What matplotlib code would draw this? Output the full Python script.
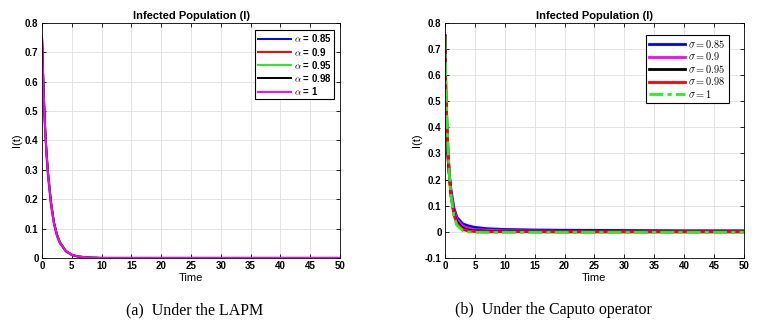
import matplotlib
matplotlib.use("Agg")
import matplotlib.pyplot as plt

plt.rcParams['font.family'] = ['Liberation Sans', 'DejaVu Sans']
plt.rcParams['mathtext.fontset'] = 'cm'

# (a) LAPM - time points and I(t) for each alpha
t_a = [0, 0.25, 0.5, 0.75, 1, 1.5, 2, 2.5, 3, 4, 5, 6, 8, 10, 15, 20, 30, 40, 50]
I_a085 = [0.75, 0.57, 0.44, 0.35, 0.28, 0.18, 0.115, 0.075, 0.05, 0.022, 0.010, 0.005, 0.001, 0.0, 0, 0, 0, 0, 0]
I_a090 = [0.75, 0.575, 0.445, 0.355, 0.285, 0.185, 0.118, 0.077, 0.051, 0.023, 0.010, 0.005, 0.001, 0.0, 0, 0, 0, 0, 0]
I_a095 = [0.75, 0.58, 0.45, 0.36, 0.29, 0.19, 0.12, 0.079, 0.052, 0.023, 0.011, 0.005, 0.001, 0.0, 0, 0, 0, 0, 0]
I_a098 = [0.75, 0.585, 0.455, 0.365, 0.295, 0.193, 0.123, 0.081, 0.054, 0.024, 0.011, 0.005, 0.001, 0.0, 0, 0, 0, 0, 0]
I_a100 = [0.75, 0.58, 0.45, 0.36, 0.29, 0.19, 0.12, 0.08, 0.053, 0.024, 0.011, 0.005, 0.001, 0.0, 0, 0, 0, 0, 0]
labels_a = [r'$\alpha$ = 0.85', r'$\alpha$ = 0.9', r'$\alpha$ = 0.95', r'$\alpha$ = 0.98', r'$\alpha$ = 1']

# (b) Caputo operator - time points and I(t) for each sigma
t_b = [0, 0.1, 0.25, 0.5, 0.75, 1, 1.5, 2, 3, 4, 5, 7, 10, 15, 20, 30, 40, 50]
I_s085 = [0.75, 0.48, 0.38, 0.28, 0.21, 0.16, 0.09, 0.055, 0.03, 0.022, 0.017, 0.012, 0.009, 0.007, 0.006, 0.005, 0.004, 0.004]
I_s090 = [0.75, 0.53, 0.41, 0.29, 0.21, 0.15, 0.08, 0.047, 0.022, 0.013, 0.009, 0.006, 0.004, 0.003, 0.002, 0.001, 0.001, 0.001]
I_s095 = [0.75, 0.57, 0.44, 0.30, 0.21, 0.14, 0.07, 0.037, 0.013, 0.006, 0.004, 0.002, 0.001, 0.0005, 0.0, 0.0, 0.0, 0.0]
I_s098 = [0.75, 0.60, 0.46, 0.31, 0.21, 0.14, 0.065, 0.03, 0.008, 0.003, 0.001, 0.0, 0.0, 0.0, 0.0, 0.0, 0.0, 0.0]
I_s100 = [0.75, 0.62, 0.48, 0.32, 0.21, 0.14, 0.06, 0.025, 0.004, -0.001, -0.002, -0.002, -0.002, -0.002, -0.002, -0.002, -0.002, -0.002]
labels_b = [r'$\sigma = 0.85$', r'$\sigma = 0.9$', r'$\sigma = 0.95$', r'$\sigma = 0.98$', r'$\sigma = 1$']

fig = plt.figure(figsize=(7.64, 3.22), dpi=100)
ax1 = fig.add_axes([0.055, 0.199, 0.390, 0.730])
ax2 = fig.add_axes([0.5825, 0.199, 0.391, 0.730])


def style(ax):
    ax.set_xlim(0, 50)
    ax.set_xticks(range(0, 51, 5))
    ax.grid(True, color='#e3e3e3', linewidth=0.7)
    ax.set_axisbelow(True)
    ax.tick_params(direction='in', top=True, right=True, length=3, width=0.6,
                   labelsize=7, pad=2.5)
    for lab in ax.get_xticklabels() + ax.get_yticklabels():
        lab.set_fontweight('bold')
    for s in ax.spines.values():
        s.set_linewidth(0.6)
    ax.set_title('Infected Population (I)', fontsize=8, fontweight='bold', pad=3)
    ax.set_xlabel('Time', fontsize=8, labelpad=1)
    ax.set_ylabel('I(t)', fontsize=8, labelpad=2)


cols_a = ['blue', 'red', '#22ee22', 'black', 'magenta']
for y, c, lb in zip([I_a085, I_a090, I_a095, I_a098, I_a100], cols_a, labels_a):
    ax1.plot(t_a, y, color=c, lw=1.4, label=lb)
ax1.set_ylim(0, 0.8)
ax1.set_yticks([i / 10 for i in range(0, 9)])
ax1.set_yticklabels(['0'] + ['%.1f' % (i / 10) for i in range(1, 9)])
style(ax1)
leg1 = ax1.legend(loc='upper right', prop={'weight': 'bold', 'size': 7},
                  fancybox=False, edgecolor='black', framealpha=1,
                  handlelength=3.4, handletextpad=0.3, labelspacing=0.12,
                  borderpad=0.25, borderaxespad=0, bbox_to_anchor=(0.98, 0.97))
leg1.get_frame().set_linewidth(0.8)

cols_b = ['blue', 'magenta', 'black', 'red', '#22ee22']
styles_b = ['-', '-', '-', '-', (0, (5, 1.5, 1.5, 1.5))]
for y, c, ls, lb in zip([I_s085, I_s090, I_s095, I_s098, I_s100], cols_b, styles_b, labels_b):
    ax2.plot(t_b, y, color=c, ls=ls, lw=2, label=lb)
ax2.set_ylim(-0.1, 0.8)
ax2.set_yticks([i / 10 for i in range(-1, 9)])
ax2.set_yticklabels(['-0.1', '0'] + ['%.1f' % (i / 10) for i in range(1, 9)])
style(ax2)
leg2 = ax2.legend(loc='upper right', fontsize=7.5,
                  fancybox=False, edgecolor='black', framealpha=1,
                  handlelength=3.4, handletextpad=0.3, labelspacing=0.05,
                  borderpad=0.3, borderaxespad=0, bbox_to_anchor=(0.95, 0.95))
leg2.get_frame().set_linewidth(0.8)

fig.text(0.255, 0.025, '(a)  Under the LAPM', family='Liberation Serif', fontsize=11.5, ha='center')
fig.text(0.725, 0.025, '(b)  Under the Caputo operator', family='Liberation Serif', fontsize=11.5, ha='center')

fig.savefig('out.png', dpi=100)
